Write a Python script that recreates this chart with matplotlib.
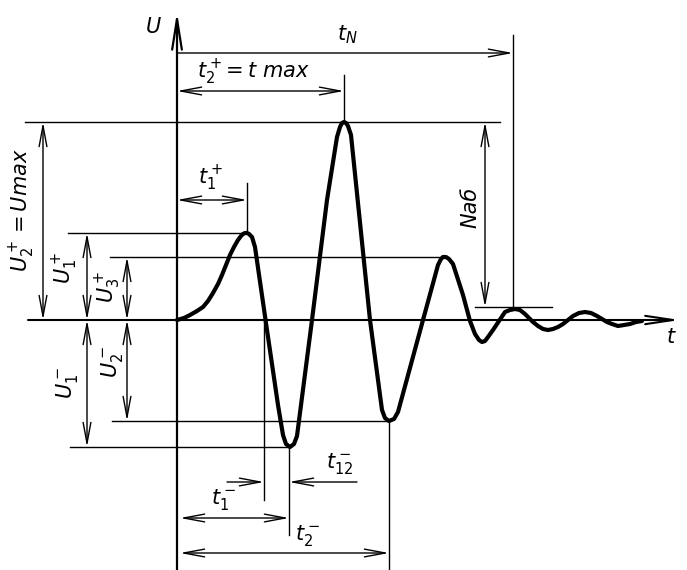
import numpy as np
from matplotlib import pyplot as plt

# signal shape (t, U) -- origin at the axes crossing
curve_t = [0, 7, 13, 20, 26, 31, 36, 41, 45, 49, 53, 57, 61, 64, 66, 68, 70, 72, 75, 78,
           90, 101, 106, 109, 113, 117, 120,
           135, 150, 160, 163, 165, 167, 169, 171, 174,
           193, 205, 208, 212, 217, 221, 246, 261, 264, 266, 269, 272, 276,
           286, 293, 298, 302, 305, 308, 311, 316, 320, 324, 328, 333, 338, 343, 348,
           352, 356, 361, 366, 371, 376, 381, 386, 391, 396, 402, 408, 414, 420, 425,
           430, 435, 441, 447, 453, 459, 465]
curve_u = [0, 2, 5, 9, 13, 19, 27, 36, 45, 55, 65, 73, 80, 84, 86, 87, 87, 86, 83, 73,
           -10, -85, -115, -124, -127, -124, -116,
           0, 120, 183, 193, 197, 198, 197, 194, 185,
           0, -90, -98, -101, -99, -92, 0, 55, 61, 63, 63, 61, 56,
           25, -1, -14, -20, -22, -21, -17, -10, -4, 2, 8, 10, 11, 10, 6,
           2, -2, -6, -9, -10, -9, -7, -4, 0, 4, 7, 8, 7, 4, 1,
           -2, -4, -6, -5, -4, -2, -1]

# characteristic levels
U1_pos = 87
U2_pos = 198
U3_pos = 63
U1_neg = -127
U2_neg = -101
U_nab = 13

# characteristic times
t1_pos = 70
t2_pos = 167
t_zero = 87
t1_neg = 112
t2_neg = 212
t_N = 336

THIN = 1.0
fs = 15


def dim(ax, p0, p1, style="<->"):
    ax.annotate("", xy=p1, xytext=p0,
                arrowprops=dict(arrowstyle=style + ",head_length=1.5,head_width=0.28",
                                lw=THIN, color="k", shrinkA=0, shrinkB=0,
                                mutation_scale=10))


fig = plt.figure(figsize=(6.87, 5.70), dpi=100)
ax = fig.add_axes([0, 0, 1, 1])
ax.set_xlim(-177, 510)
ax.set_ylim(-250, 320)
ax.axis("off")

# axes
ax.annotate("", xy=(0, 308), xytext=(0, -250),
            arrowprops=dict(arrowstyle="->,head_length=2.2,head_width=0.35", lw=1.6,
                            color="k", shrinkA=0, shrinkB=0, mutation_scale=10))
ax.annotate("", xy=(503, 0), xytext=(-149, 0),
            arrowprops=dict(arrowstyle="->,head_length=2.0,head_width=0.3", lw=1.5,
                            color="k", shrinkA=0, shrinkB=0, mutation_scale=10))

# level lines
ax.plot([-152, 323], [U2_pos, U2_pos], "k-", lw=THIN)
ax.plot([-109, t1_pos], [U1_pos, U1_pos], "k-", lw=THIN)
ax.plot([-67, 269], [U3_pos, U3_pos], "k-", lw=THIN)
ax.plot([-65, t2_neg], [U2_neg, U2_neg], "k-", lw=THIN)
ax.plot([-107, t1_neg], [U1_neg, U1_neg], "k-", lw=THIN)
ax.plot([298, 375], [U_nab, U_nab], "k-", lw=THIN)

# extension lines
ax.plot([t1_pos, t1_pos], [U1_pos, 137], "k-", lw=THIN)
ax.plot([t2_pos, t2_pos], [U2_pos, 245], "k-", lw=THIN)
ax.plot([t_N, t_N], [U_nab, 285], "k-", lw=THIN)
ax.plot([t_zero, t_zero], [0, -180], "k-", lw=THIN)
ax.plot([t1_neg, t1_neg], [U1_neg, -215], "k-", lw=THIN)
ax.plot([t2_neg, t2_neg], [U2_neg, -250], "k-", lw=THIN)

# the signal
ax.plot(curve_t, curve_u, "k-", lw=3.0, solid_joinstyle="round", solid_capstyle="round")

# time dimensions
dim(ax, (0, 267), (t_N, 267), "->")
dim(ax, (0, 229), (t2_pos, 229))
dim(ax, (0, 120), (t1_pos, 120))
dim(ax, (50, -162), (t_zero, -162), "->")
dim(ax, (180, -162), (t1_neg, -162), "->")
dim(ax, (3, -198), (t1_neg, -198))
dim(ax, (3, -233), (t2_neg, -233))

# amplitude dimensions
dim(ax, (-134, 0), (-134, U2_pos))
dim(ax, (-90, 0), (-90, U1_pos))
dim(ax, (-50, 0), (-50, U3_pos))
dim(ax, (-90, 0), (-90, U1_neg))
dim(ax, (-50, 0), (-50, U2_neg))
dim(ax, (308, U_nab), (308, U2_pos))

# labels
ax.text(-24, 293, r"$U$", fontsize=fs, ha="center", va="center")
ax.text(494, -17, r"$t$", fontsize=fs, ha="center", va="center")
ax.text(170, 285, r"$t_N$", fontsize=fs, ha="center", va="center")
ax.text(76, 248, r"$t_2^+\!=t\ max$", fontsize=fs, ha="center", va="center")
ax.text(34, 142, r"$t_1^+$", fontsize=fs, ha="center", va="center")
ax.text(-155, 110, r"$U_2^+ = Umax$", fontsize=fs, ha="center", va="center", rotation=90)
ax.text(-112, 52, r"$U_1^+$", fontsize=fs, ha="center", va="center", rotation=90)
ax.text(-69, 33, r"$U_3^+$", fontsize=fs, ha="center", va="center", rotation=90)
ax.text(-110, -63, r"$U_1^-$", fontsize=fs, ha="center", va="center", rotation=90)
ax.text(-65, -42, r"$U_2^-$", fontsize=fs, ha="center", va="center", rotation=90)
ax.text(293, 113, "Nаб", fontsize=fs, style="italic", ha="center", va="center", rotation=90)
ax.text(163, -143, r"$t_{12}^-$", fontsize=fs, ha="center", va="center")
ax.text(47, -180, r"$t_1^-$", fontsize=fs, ha="center", va="center")
ax.text(131, -215, r"$t_2^-$", fontsize=fs, ha="center", va="center")

fig.savefig("out.png", dpi=100)
